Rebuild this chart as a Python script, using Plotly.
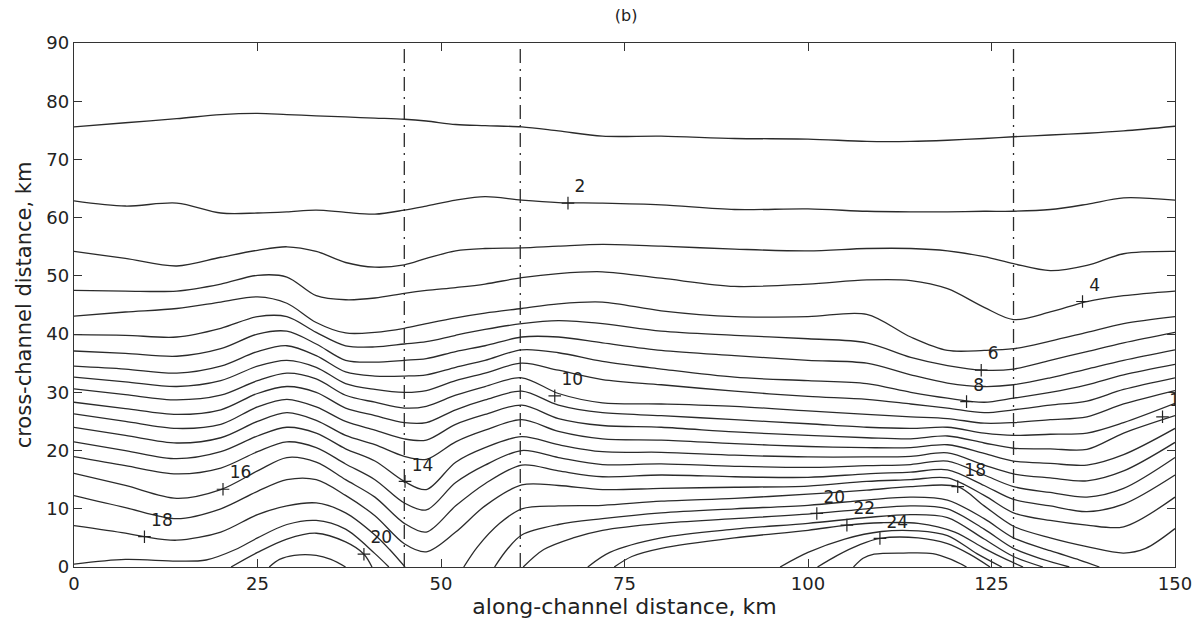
import plotly.graph_objects as go

# ---------------- data ----------------
X_COLS = [0, 7, 14, 20, 25, 29, 33, 37, 41, 45, 48, 52, 56, 61, 66, 72, 80, 90, 100, 108, 114, 119, 124, 128, 133, 138, 143, 150]

LEVEL_1 = [75.6, 76.3, 77.0, 77.7, 77.9, 77.7, 77.5, 77.3, 77.1, 76.9, 76.6, 76.0, 75.8, 75.6, 74.9, 74.0, 74.0, 73.6, 73.5, 73.1, 73.1, 73.3, 73.6, 73.9, 74.2, 74.5, 74.9, 75.7]
LEVEL_2 = [62.9, 62.0, 62.5, 60.8, 60.8, 61.0, 61.3, 60.9, 60.6, 61.3, 62.0, 63.0, 63.6, 63.0, 62.6, 62.5, 62.2, 61.4, 61.5, 61.1, 61.0, 61.0, 61.1, 61.1, 61.4, 62.3, 63.4, 63.0]
LEVEL_3 = [54.2, 53.0, 51.7, 53.2, 54.4, 55.0, 54.2, 52.3, 51.5, 51.9, 53.0, 54.3, 54.7, 54.8, 55.1, 55.4, 55.1, 54.6, 54.3, 54.7, 54.7, 54.3, 53.3, 52.1, 50.9, 51.8, 53.8, 54.2]
LEVEL_4 = [47.5, 47.4, 47.4, 48.6, 50.1, 49.8, 46.6, 45.9, 46.2, 47.0, 47.5, 48.0, 48.6, 49.7, 50.4, 50.7, 49.6, 48.2, 48.6, 49.3, 49.2, 47.8, 44.6, 42.5, 43.8, 45.6, 46.6, 47.4]
LEVEL_5 = [43.1, 43.8, 44.4, 45.5, 46.4, 45.3, 42.0, 40.2, 40.3, 41.0, 41.8, 42.8, 43.6, 44.4, 45.2, 45.5, 44.0, 43.0, 43.0, 43.4, 39.5, 37.2, 37.2, 37.5, 38.8, 40.3, 41.8, 43.0]
LEVEL_6 = [39.9, 39.8, 39.5, 41.0, 43.0, 43.0, 40.3, 38.0, 37.8, 38.3, 38.7, 39.8, 40.8, 41.8, 42.3, 41.8, 40.5, 39.8, 39.2, 38.5, 36.0, 34.6, 33.8, 34.0, 35.5, 37.0, 38.5, 40.3]
LEVEL_7 = [37.1, 36.7, 36.2, 37.5, 40.0, 40.5, 38.3, 35.5, 35.2, 35.5, 35.8, 37.0, 38.0, 39.5, 39.5, 38.5, 37.2, 36.3, 35.5, 35.0, 33.0, 31.6, 31.0, 31.3, 32.5, 34.0, 35.5, 37.3]
LEVEL_8 = [34.5, 34.0, 33.3, 34.5, 37.0, 38.0, 36.3, 33.5, 32.8, 32.8, 33.0, 34.3, 35.5, 37.3, 36.8, 35.3, 34.0, 32.6, 32.0, 31.5, 30.0, 29.0, 28.3, 29.0, 30.0, 31.3, 33.0, 34.8]
LEVEL_9 = [32.6, 31.8, 31.0, 32.0, 34.5, 35.5, 34.3, 31.5, 30.5, 30.0, 30.3, 32.0, 33.3, 35.0, 33.8, 32.2, 31.3, 30.2, 29.3, 28.8, 28.0, 27.3, 26.5, 27.0, 27.8, 28.5, 30.5, 32.5]
LEVEL_10 = [30.6, 29.6, 28.7, 29.5, 32.0, 33.3, 32.3, 29.5, 28.3, 27.3, 27.6, 29.5, 31.0, 32.5, 29.8, 28.2, 28.0, 27.6, 26.8, 26.2, 25.8, 25.5, 24.7, 24.8, 25.3, 25.8, 28.0, 30.3]
LEVEL_11 = [28.3, 27.2, 26.2, 27.0, 29.8, 31.0, 30.0, 27.3, 26.0, 24.8, 24.8, 27.0, 28.7, 30.2, 27.8, 26.5, 26.0, 25.3, 24.6, 24.0, 23.8, 24.0, 23.0, 22.6, 22.8, 23.0, 24.8, 28.1]
LEVEL_12 = [26.3, 25.0, 23.8, 24.5, 27.5, 28.8, 27.5, 25.0, 23.5, 22.0, 21.8, 24.5, 26.2, 27.8, 25.5, 24.3, 24.0, 23.2, 22.6, 22.2, 22.0, 22.5, 21.3, 20.4, 20.3, 20.2, 23.0, 26.0]
LEVEL_13 = [24.0, 22.6, 21.3, 22.2, 25.0, 26.5, 25.2, 22.6, 21.0, 19.0, 18.5, 21.5, 23.5, 25.3, 23.3, 22.0, 21.8, 21.2, 20.7, 20.5, 20.5, 21.0, 19.5, 18.2, 17.8, 17.5, 19.3, 23.8]
LEVEL_14 = [21.5, 20.0, 18.6, 19.8, 22.5, 24.0, 23.0, 20.3, 18.2, 14.7, 13.3, 18.0, 20.5, 22.4, 21.0, 19.8, 19.7, 19.2, 18.9, 18.9, 19.0, 19.6, 17.5, 16.0, 15.3, 14.8, 16.5, 21.4]
LEVEL_15 = [18.95, 17.4, 16.0, 17.0, 19.8, 21.5, 20.5, 17.7, 15.0, 11.0, 9.8, 14.5, 17.5, 20.0, 18.8, 17.6, 17.7, 17.3, 17.1, 17.4, 17.6, 18.2, 15.8, 13.8, 12.8, 12.0, 13.5, 18.8]
LEVEL_16 = [16.1, 14.0, 11.8, 13.3, 16.5, 18.8, 18.0, 15.0, 12.0, 7.5, 6.0, 10.5, 14.3, 17.5, 16.5, 15.5, 15.8, 15.5, 15.4, 16.0, 16.3, 16.7, 14.0, 11.6, 10.5, 9.5, 10.8, 15.8]
LEVEL_17 = [12.25, 10.2, 8.3, 10.0, 13.0, 15.0, 15.0, 12.3, 8.8, 4.0, 2.6, 6.0, 10.5, 14.1, 14.0, 13.3, 13.5, 13.7, 13.9, 14.7, 15.0, 15.3, 12.3, 9.3, 8.0, 7.2, 6.9, 12.0]

# lower contours that meet the channel floor are split into pieces
LEVEL_18A_X = [0, 7, 9.6, 14, 20, 25, 29, 33, 37, 41, 43, 45.1]
LEVEL_18A_Y = [7.1, 5.8, 5.2, 4.6, 6.0, 9.0, 10.5, 11.0, 9.3, 5.5, 3.0, 0]
LEVEL_18B_X = [53.1, 55, 58, 61, 66, 72, 80, 90, 100, 108, 114, 120.4, 124, 128, 133, 138, 143, 146, 150]
LEVEL_18B_Y = [0, 3.5, 7.5, 10.0, 10.5, 10.6, 11.3, 11.8, 12.5, 13.2, 13.8, 13.8, 10.5, 7.0, 5.0, 3.5, 2.4, 3.2, 6.6]
LEVEL_19A_X = [0, 7, 14, 18, 22, 25, 29, 33, 37, 41, 42.9]
LEVEL_19A_Y = [0.5, 1.3, 1.0, 1.2, 3.0, 5.0, 7.3, 8.0, 6.5, 2.3, 0]
LEVEL_19B_X = [57.3, 59, 61, 66, 72, 80, 90, 100, 108, 114, 119, 124, 128, 133, 137, 139.7]
LEVEL_19B_Y = [0, 3.0, 5.5, 7.3, 8.3, 9.3, 10.0, 10.6, 11.5, 12.0, 11.5, 8.3, 5.0, 2.8, 1.2, 0]
LEVEL_20A_X = [21.4, 25, 29, 33, 37, 39.5, 40.6]
LEVEL_20A_Y = [0, 2.5, 4.8, 5.8, 4.3, 2.2, 0]
LEVEL_20B_X = [61.2, 64, 68, 72, 80, 90, 101.2, 108, 114, 119, 124, 128, 132, 135.6]
LEVEL_20B_Y = [0, 3.0, 5.0, 6.3, 7.5, 8.3, 9.2, 10.0, 10.5, 10.0, 6.5, 3.2, 1.3, 0]
LEVEL_21A_X = [26.6, 28, 30, 33, 35, 37]
LEVEL_21A_Y = [0, 1.3, 2.0, 2.0, 1.3, 0]
LEVEL_21B_X = [70, 73, 80, 90, 100, 108, 114, 119, 124, 128, 132]
LEVEL_21B_Y = [0, 2.5, 5.0, 6.5, 7.5, 8.5, 9.0, 8.5, 4.8, 1.8, 0]
LEVEL_22_X = [73.6, 76, 80, 90, 100, 105.3, 110, 115, 120, 124, 127, 129.3]
LEVEL_22_Y = [0, 1.8, 3.2, 5.0, 6.3, 7.2, 7.6, 7.5, 6.0, 3.2, 1.3, 0]
LEVEL_23_X = [96.2, 100, 105, 110, 115, 119, 123, 126.4]
LEVEL_23_Y = [0, 2.5, 4.8, 6.1, 6.2, 5.4, 2.3, 0]
LEVEL_24_X = [101.3, 104, 107, 109.8, 115, 119, 122, 124.8]
LEVEL_24_Y = [0, 2.0, 3.8, 4.9, 5.0, 4.0, 2.2, 0]
LEVEL_25_X = [106.2, 107.5, 109, 113, 117, 119.5, 121.6]
LEVEL_25_Y = [0, 1.5, 2.2, 2.4, 2.3, 1.3, 0]

SECTION_X = [45.0, 60.8, 128.0]          # dash-dot vertical lines

LABEL_TEXT = ["2", "4", "6", "8", "10", "12", "14", "16", "18", "20", "18", "20", "22", "24"]
LABEL_X = [67.3, 137.4, 123.6, 121.6, 65.5, 148.3, 45.1, 20.3, 9.6, 39.5, 120.4, 101.2, 105.3, 109.8]
LABEL_Y = [62.5, 45.6, 33.8, 28.4, 29.4, 25.8, 14.7, 13.35, 5.2, 2.2, 13.8, 9.2, 7.2, 4.9]

X_TICKS = [0, 25, 50, 75, 100, 125, 150]
Y_TICKS = [0, 10, 20, 30, 40, 50, 60, 70, 80, 90]

# ---------------- figure ----------------
LINE_COLOR = "#2b2b2b"
FONT = "DejaVu Sans"
fig = go.Figure()

full_lines = [LEVEL_1, LEVEL_2, LEVEL_3, LEVEL_4, LEVEL_5, LEVEL_6, LEVEL_7, LEVEL_8,
              LEVEL_9, LEVEL_10, LEVEL_11, LEVEL_12, LEVEL_13, LEVEL_14, LEVEL_15,
              LEVEL_16, LEVEL_17]
for yy in full_lines:
    fig.add_trace(go.Scatter(x=X_COLS, y=yy, mode="lines",
                             line=dict(color=LINE_COLOR, width=1.3, shape="spline", smoothing=0.9),
                             hoverinfo="skip", showlegend=False))

pieces = [(LEVEL_18A_X, LEVEL_18A_Y), (LEVEL_18B_X, LEVEL_18B_Y),
          (LEVEL_19A_X, LEVEL_19A_Y), (LEVEL_19B_X, LEVEL_19B_Y),
          (LEVEL_20A_X, LEVEL_20A_Y), (LEVEL_20B_X, LEVEL_20B_Y),
          (LEVEL_21A_X, LEVEL_21A_Y), (LEVEL_21B_X, LEVEL_21B_Y),
          (LEVEL_22_X, LEVEL_22_Y), (LEVEL_23_X, LEVEL_23_Y),
          (LEVEL_24_X, LEVEL_24_Y), (LEVEL_25_X, LEVEL_25_Y)]
for xx, yy in pieces:
    fig.add_trace(go.Scatter(x=xx, y=yy, mode="lines",
                             line=dict(color=LINE_COLOR, width=1.3, shape="spline", smoothing=0.9),
                             hoverinfo="skip", showlegend=False))

for sx in SECTION_X:
    fig.add_trace(go.Scatter(x=[sx, sx], y=[0, 90], mode="lines",
                             line=dict(color=LINE_COLOR, width=1.3, dash="14px,6px,2px,6px"),
                             hoverinfo="skip", showlegend=False))

fig.add_trace(go.Scatter(x=LABEL_X, y=LABEL_Y, mode="markers+text", text=LABEL_TEXT,
                         textposition="top right",
                         textfont=dict(family=FONT, size=17, color="#222"),
                         marker=dict(symbol="cross-thin", size=9, line=dict(color="#222", width=1.2)),
                         cliponaxis=True, hoverinfo="skip", showlegend=False))

axis_common = dict(showgrid=False, zeroline=False, showline=True, mirror="ticks",
                   linecolor="#333", linewidth=1.3, ticks="inside", ticklen=8,
                   tickcolor="#333", tickwidth=1.3,
                   tickfont=dict(family=FONT, size=18, color="#222"))

fig.update_layout(
    width=1204, height=624,
    paper_bgcolor="white", plot_bgcolor="white",
    margin=dict(l=74, r=25, t=43, b=57),
    title=dict(text="(b)", x=0.52, xanchor="center", y=0.985, yanchor="top",
               font=dict(family=FONT, size=16, color="#222")),
    xaxis=dict(range=[0, 150], tickvals=X_TICKS,
               title=dict(text="along-channel distance, km", standoff=2,
                          font=dict(family=FONT, size=22, color="#222")),
               **axis_common),
    yaxis=dict(range=[0, 90], tickvals=Y_TICKS,
               title=dict(text="cross-channel distance, km", standoff=8,
                          font=dict(family=FONT, size=21, color="#222")),
               **axis_common),
)

fig.write_html("out.html")
